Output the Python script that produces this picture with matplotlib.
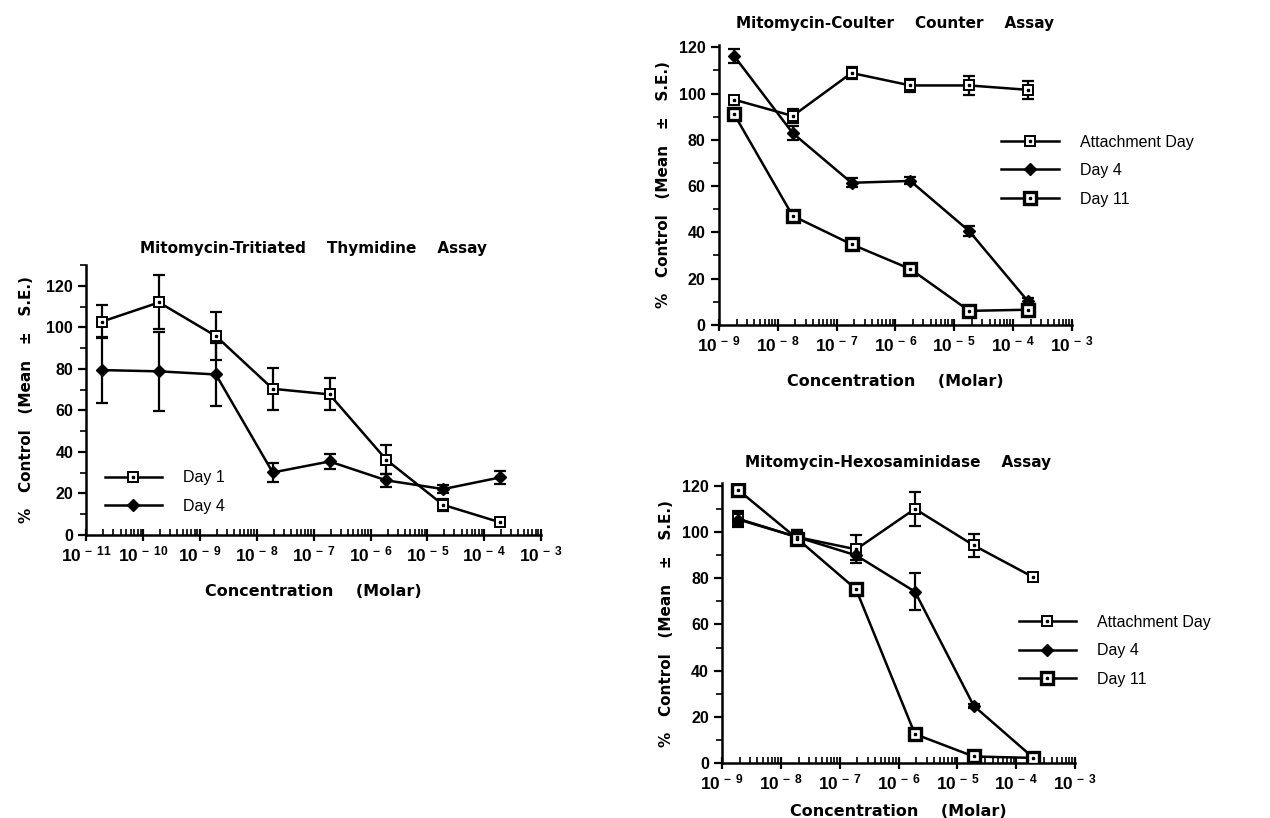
import numpy as np
import matplotlib
matplotlib.use("Agg")
import matplotlib.pyplot as plt
from matplotlib.ticker import FixedLocator, LogLocator, NullFormatter, MultipleLocator
from matplotlib.legend_handler import HandlerTuple

plt.rcParams['font.family'] = ['Liberation Sans', 'DejaVu Sans']
plt.rcParams['mathtext.fontset'] = 'custom'
plt.rcParams['mathtext.bf'] = 'Liberation Sans:bold'
plt.rcParams['mathtext.rm'] = 'Liberation Sans'

# ---- data ----
# Thymidine assay (left)
thy_conc = [1.9e-11, 1.9e-10, 1.9e-9, 1.9e-8, 1.9e-7, 1.9e-6, 1.9e-5, 1.9e-4]
thy_day1 = [102.8, 112, 95.8, 70.4, 67.7, 36.2, 14.5, 6.1]
thy_day1_err = [8, 13, 11.5, 10, 7.7, 7, 3, 1]
thy_day4 = [79.4, 78.8, 77.3, 30.1, 35.4, 26.3, 22.1, 27.7]
thy_day4_err = [16, 19, 15, 4.5, 3.5, 3, 2, 3]

# Coulter counter assay (top right)
cc_conc = [1.8e-9, 1.8e-8, 1.8e-7, 1.8e-6, 1.8e-5, 1.8e-4]
cc_attach = [97.4, 90.3, 108.9, 103.5, 103.5, 101.6]
cc_attach_err = [1.5, 3, 2.5, 3, 4, 4]
cc_day4 = [116.4, 82.9, 61.4, 62.2, 40.5, 10.1]
cc_day4_err = [3, 3, 2, 1.5, 2, 1.5]
cc_day11 = [91.3, 47.1, 34.8, 24.1, 6.0, 6.5]
cc_day11_err = [2.5, 1, 1.5, 1.5, 1, 1]

# Hexosaminidase assay (bottom right)
hx_conc = [1.9e-9, 1.9e-8, 1.9e-7, 1.9e-6, 1.9e-5, 1.9e-4]
hx_attach = [105.7, 97.8, 92.5, 110, 94.2, 80.6]
hx_attach_err = [3.5, 3, 6, 7.5, 5, 1.5]
hx_day4 = [105.4, 97.8, 89.9, 74.2, 24.8, 2.6]
hx_day4_err = [3, 3, 2, 8, 1, 0.5]
hx_day11 = [118.1, 97.1, 75.2, 12.6, 2.9, 2.3]
hx_day11_err = [1, 2, 1, 1, 0.5, 0.5]

fig = plt.figure(figsize=(12.7, 8.18), dpi=100)

# the scanned labels are bold and widely spaced, DejaVu bold is the closer width
bold = dict(fontweight='bold', fontsize=11, family='DejaVu Sans')


def style_axes(ax, dec_lo, dec_hi, ytop):
    ax.set_xscale('log')
    ax.set_xlim(10.0 ** dec_lo, 10.0 ** dec_hi)
    ax.set_ylim(0, ytop)
    for s in ['top', 'right']:
        ax.spines[s].set_visible(False)
    for s in ['left', 'bottom']:
        ax.spines[s].set_linewidth(1.8)
    decs = list(range(dec_lo, dec_hi + 1))
    ax.xaxis.set_major_locator(FixedLocator([10.0 ** d for d in decs]))
    ax.set_xticklabels([r'$\mathbf{10^{\,-\,%d}}$' % -d for d in decs])
    ax.xaxis.set_minor_locator(LogLocator(base=10, subs=np.arange(2, 10), numticks=50))
    ax.xaxis.set_minor_formatter(NullFormatter())
    ax.yaxis.set_major_locator(MultipleLocator(20))
    ax.yaxis.set_minor_locator(MultipleLocator(10))
    ax.tick_params(axis='x', which='major', direction='inout', length=8, width=1.6, labelsize=12.5, pad=3)
    ax.tick_params(axis='x', which='minor', direction='in', length=4, width=1.2)
    ax.tick_params(axis='y', which='major', direction='out', length=6, width=1.6, labelsize=11.5)
    ax.tick_params(axis='y', which='minor', direction='out', length=4, width=1.2)
    for lab in ax.get_yticklabels():
        lab.set_fontweight('bold')
    ax.set_ylabel('%   Control   (Mean   \u00b1   S.E.)', **bold, labelpad=6)
    ax.set_xlabel('Concentration    (Molar)', fontweight='bold', fontsize=11.5,
                  family='DejaVu Sans', labelpad=14)
    ax.patch.set_alpha(0)


def series(ax, x, y, e, kind):
    ax.errorbar(x, y, yerr=e, fmt='none', ecolor='black', elinewidth=1.6,
                capsize=4, capthick=1.6, zorder=2)
    if kind == 'open':
        line, = ax.plot(x, y, color='black', lw=1.8, marker='s', ms=7,
                        mfc='white', mec='black', mew=1.4, zorder=3)
        dot, = ax.plot(x, y, ls='none', marker='s', ms=1.8, color='black', zorder=4)
        return (line, dot)
    if kind == 'diamond':
        line, = ax.plot(x, y, color='black', lw=1.8, marker='D', ms=6,
                        mfc='black', mec='black', zorder=3)
        return line
    line, = ax.plot(x, y, color='black', lw=1.8, marker='s', ms=8,
                    mfc='white', mec='black', mew=2.4, zorder=3)
    dot, = ax.plot(x, y, ls='none', marker='s', ms=1.8, color='black', zorder=4)
    return (line, dot)


leg_kw = dict(handler_map={tuple: HandlerTuple(ndivide=1)}, frameon=False,
              fontsize=11.5, handlelength=3.6, handletextpad=1.3, labelspacing=0.85,
              borderaxespad=0, borderpad=0)

# ---- left: tritiated thymidine ----
ax1 = fig.add_axes([0.068, 0.346, 0.358, 0.330])
style_axes(ax1, -11, -3, 130)
ax1.yaxis.set_major_locator(FixedLocator([0, 20, 40, 60, 80, 100, 120]))
ax1.yaxis.set_minor_locator(FixedLocator([10, 30, 50, 70, 90, 110, 130]))
ax1.yaxis.labelpad = 9
h1 = series(ax1, thy_conc, thy_day1, thy_day1_err, 'open')
h4 = series(ax1, thy_conc, thy_day4, thy_day4_err, 'diamond')
ax1.set_title('Mitomycin-Tritiated    Thymidine    Assay', **bold, pad=9)
ax1.legend([h1, h4], ['Day 1', 'Day 4'], loc='upper left',
           bbox_to_anchor=(0.04, 0.24), **leg_kw)

# ---- top right: Coulter counter ----
ax2 = fig.add_axes([0.566, 0.603, 0.278, 0.342])
style_axes(ax2, -9, -3, 121)
a = series(ax2, cc_conc, cc_attach, cc_attach_err, 'open')
d4 = series(ax2, cc_conc, cc_day4, cc_day4_err, 'diamond')
d11 = series(ax2, cc_conc, cc_day11, cc_day11_err, 'thick')
ax2.set_title('Mitomycin-Coulter    Counter    Assay', **bold, pad=12)
ax2.legend([a, d4, d11], ['Attachment Day', 'Day 4', 'Day 11'], loc='upper left',
           bbox_to_anchor=(0.80, 0.68), **leg_kw)

# ---- bottom right: hexosaminidase ----
ax3 = fig.add_axes([0.5685, 0.067, 0.278, 0.342])
style_axes(ax3, -9, -3, 121)
a = series(ax3, hx_conc, hx_attach, hx_attach_err, 'open')
d4 = series(ax3, hx_conc, hx_day4, hx_day4_err, 'diamond')
d11 = series(ax3, hx_conc, hx_day11, hx_day11_err, 'thick')
ax3.set_title('Mitomycin-Hexosaminidase    Assay', **bold, pad=12)
ax3.xaxis.labelpad = 8
ax3.legend([a, d4, d11], ['Attachment Day', 'Day 4', 'Day 11'], loc='upper left',
           bbox_to_anchor=(0.84, 0.53), **leg_kw)

fig.savefig('out.png', dpi=100, facecolor='white')
